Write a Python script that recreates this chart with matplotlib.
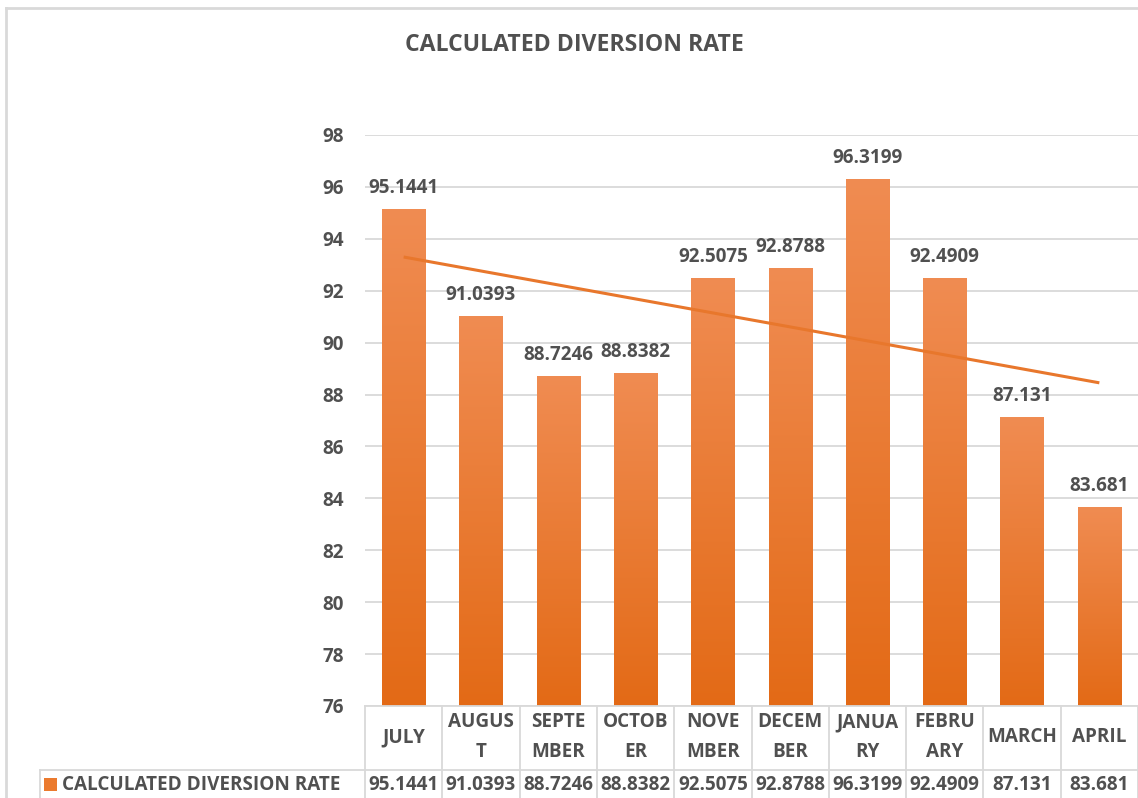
"""
Calculated diversion rate by month, Excel-style column chart with a
linear trendline and a data table under the axis.
"""

import numpy as np
import matplotlib
matplotlib.use("Agg")
import matplotlib.pyplot as plt
import matplotlib.transforms as mtransforms
from matplotlib.lines import Line2D
from matplotlib.patches import Rectangle
from matplotlib.colors import LinearSegmentedColormap

# --- data -----------------------------------------------------------------
months = ["JULY", "AUGUST", "SEPTEMBER", "OCTOBER", "NOVEMBER",
          "DECEMBER", "JANUARY", "FEBRUARY", "MARCH", "APRIL"]
month_labels = ["JULY", "AUGUS\nT", "SEPTE\nMBER", "OCTOB\nER", "NOVE\nMBER",
                "DECEM\nBER", "JANUA\nRY", "FEBRU\nARY", "MARCH", "APRIL"]
rates = [95.1441, 91.0393, 88.7246, 88.8382, 92.5075,
         92.8788, 96.3199, 92.4909, 87.131, 83.681]
series_name = "CALCULATED DIVERSION RATE"
y_ticks = [76, 78, 80, 82, 84, 86, 88, 90, 92, 94, 96, 98]

# --- style ----------------------------------------------------------------
plt.rcParams["font.family"] = ["Open Sans", "DejaVu Sans"]
TEXT = "#505050"
GRID = "#D9D9D9"
ORANGE = "#EB7A2E"
FS = 13.6

W, H = 1138, 798


def fx(px):
    return px / W


def fy(py):
    return 1 - py / H


fig = plt.figure(figsize=(W / 100, H / 100), dpi=100)
fig.patch.set_facecolor("white")

ax = fig.add_axes([fx(365), fy(706), fx(1138) - fx(365), fy(135) - fy(706)])

x = np.arange(1, len(rates) + 1)
bars = ax.bar(x, rates, width=0.56, color=ORANGE, zorder=2)

# vertical gradient on every bar, lighter at the top
grad_cmap = LinearSegmentedColormap.from_list("bar", ["#E36A16", "#F08C52"])
grad = np.linspace(0, 1, 256).reshape(-1, 1)
for b, v in zip(bars, rates):
    x0 = b.get_x()
    im = ax.imshow(grad, cmap=grad_cmap, origin="lower", aspect="auto",
                   extent=(x0, x0 + b.get_width(), y_ticks[0], v), zorder=2.1)
    im.set_clip_path(b)

# linear trendline
coef = np.polyfit(x, rates, 1)
xt = x[[0, -1]]
ax.plot(xt, np.polyval(coef, xt), color="#E8772C", lw=2.2, zorder=3,
        solid_capstyle="butt")

# data labels
for xi, v in zip(x, rates):
    ax.annotate(f"{v:g}", (xi, v), xytext=(0, 11.5), textcoords="offset points",
                ha="center", va="baseline", fontsize=FS, fontweight="bold",
                color=TEXT, zorder=4)

ax.set_xlim(0.5, len(rates) + 0.5)
ax.set_ylim(y_ticks[0], y_ticks[-1])
ax.set_yticks(y_ticks)
ax.set_yticklabels([str(t) for t in y_ticks], fontsize=FS, fontweight="bold",
                   color=TEXT)
ax.tick_params(axis="y", length=0, pad=15)
ax.set_xticks([])
ax.yaxis.grid(True, color=GRID, lw=1.3)
ax.set_axisbelow(True)
for side in ("left", "right", "top"):
    ax.spines[side].set_visible(False)
ax.spines["bottom"].set_color(GRID)
ax.spines["bottom"].set_linewidth(1.3)

# --- data table -------------------------------------------------------------
blend = mtransforms.blended_transform_factory(ax.transData, fig.transFigure)
for i in range(len(rates) + 1):
    fig.add_artist(Line2D([0.5 + i, 0.5 + i], [fy(706), 0], transform=blend,
                          color=GRID, lw=1.3))
fig.add_artist(Line2D([fx(40), 1], [fy(770), fy(770)],
                      transform=fig.transFigure, color=GRID, lw=1.3))
fig.add_artist(Line2D([fx(40), fx(40)], [fy(770), 0],
                      transform=fig.transFigure, color=GRID, lw=1.3))

for xi, lab, v in zip(x, month_labels, rates):
    fig.text(xi, fy(737), lab, transform=blend, ha="center", va="center",
             fontsize=FS, fontweight="bold", color=TEXT, linespacing=1.65)
    fig.text(xi, fy(785), f"{v:g}", transform=blend, ha="center", va="center",
             fontsize=FS, fontweight="bold", color=TEXT)

# legend key in the table
fig.add_artist(Rectangle((fx(44), fy(791)), fx(13), fy(778) - fy(791),
                         transform=fig.transFigure, color=ORANGE, lw=0))
fig.text(fx(62), fy(785), series_name, ha="left", va="center",
         fontsize=FS, fontweight="bold", color=TEXT)

# title
fig.text(fx(574), fy(45), "CALCULATED DIVERSION RATE", ha="center",
         va="center", fontsize=16.6, fontweight="bold", color=TEXT)

# chart frame (cropped on the right and bottom)
fig.add_artist(Line2D([fx(6), 1], [fy(8), fy(8)], transform=fig.transFigure,
                      color=GRID, lw=2))
fig.add_artist(Line2D([fx(6), fx(6)], [fy(8), 0], transform=fig.transFigure,
                      color=GRID, lw=2))

fig.savefig("out.png", dpi=100, facecolor="white")
plt.close(fig)
